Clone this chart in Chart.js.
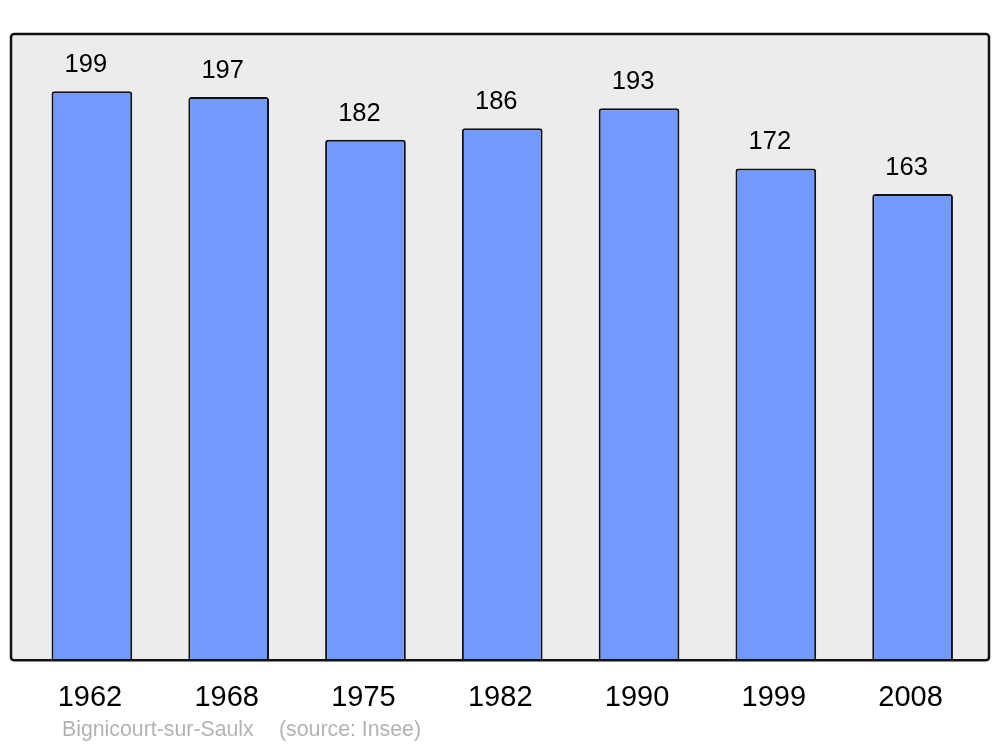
<!DOCTYPE html>
<html><head><meta charset="utf-8">
<script src="https://cdn.jsdelivr.net/npm/chart.js@4/dist/chart.umd.min.js"></script>
<style>html,body{margin:0;padding:0;background:#fff}#wrap{width:1000px;height:747px}</style>
</head><body><div id="wrap"><canvas id="c" width="1000" height="747"></canvas></div>
<script>
const years = ["1962","1968","1975","1982","1990","1999","2008"];
const population = [199,197,182,186,193,172,163];
const placeName = "Bignicourt-sur-Saulx";
const sourceText = "(source: Insee)";

const boxPlugin = {
  id: 'box',
  beforeDraw(chart) {
    const {ctx, chartArea: a} = chart;
    const l = a.left - 12.5, r = a.right + 8, t = a.top, b = a.bottom;
    ctx.save();
    ctx.beginPath();
    ctx.roundRect(l, t, r - l, b - t, 3);
    ctx.fillStyle = '#ececec';
    ctx.fill();
    ctx.restore();
  },
  afterDatasetsDraw(chart) {
    const {ctx, chartArea: a} = chart;
    const l = a.left - 12.5, r = a.right + 8, t = a.top, b = a.bottom;
    ctx.save();
    ctx.beginPath();
    ctx.roundRect(l, t, r - l, b - t, 3);
    ctx.lineWidth = 2.5;
    ctx.strokeStyle = '#111';
    ctx.stroke();
    // value labels
    const meta = chart.getDatasetMeta(0);
    ctx.fillStyle = '#000';
    ctx.font = '25.5px "Liberation Sans", Arial, sans-serif';
    ctx.textAlign = 'center';
    ctx.textBaseline = 'middle';
    meta.data.forEach((bar, i) => {
      ctx.fillText(String(population[i]), bar.x - 6, bar.y - 26);
    });
    // source
    ctx.fillStyle = '#b3b3b3';
    ctx.font = '21.3px "Liberation Sans", Arial, sans-serif';
    ctx.textAlign = 'left';
    ctx.fillText(placeName, 62, 730);
    ctx.fillText(sourceText, 279, 730);
    ctx.restore();
  }
};

new Chart(document.getElementById('c'), {
  type: 'bar',
  data: {
    labels: years,
    datasets: [{
      data: population,
      backgroundColor: '#7299ff',
      borderColor: '#111',
      borderWidth: 2,
      borderRadius: 3,
      borderSkipped: 'bottom',
      barPercentage: 0.59,
      categoryPercentage: 1
    }]
  },
  options: {
    responsive: false,
    animation: false,
    layout: { padding: { left: 23.5, right: 19, top: 34, bottom: 11 } },
    plugins: { legend: { display: false }, tooltip: { enabled: false }, title: { display: false } },
    scales: {
      x: {
        grid: { display: false, drawTicks: false },
        border: { display: false },
        ticks: { color: '#000', font: { size: 29, family: '"Liberation Sans", Arial, sans-serif' }, padding: 20.5, labelOffset: -2 }
      },
      y: { display: false, min: 0, max: 219 }
    }
  },
  plugins: [boxPlugin]
});
</script></body></html>
